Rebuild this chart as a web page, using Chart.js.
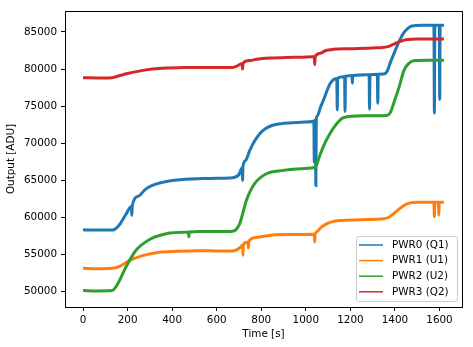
<!DOCTYPE html>
<html>
<head>
<meta charset="utf-8">
<script src="https://cdn.jsdelivr.net/npm/chart.js@4.4.0/dist/chart.umd.min.js"></script>
<style>
  html, body { margin: 0; padding: 0; background: #fff; }
  #wrap { width: 473px; height: 347px; }
</style>
</head>
<body>
<div id="wrap"><canvas id="chart"></canvas></div>
<script>
// --- data ---
const seriesNames = ['PWR0 (Q1)', 'PWR1 (U1)', 'PWR2 (U2)', 'PWR3 (Q2)'];
const seriesColors = ['#1f77b4', '#ff7f0e', '#2ca02c', '#d62728'];

const timePwr0 = [0, 40, 80, 130, 160, 190, 217, 219, 221, 250, 280, 311, 350, 401, 460, 523, 600, 671, 700, 714, 716, 718, 730, 748, 770, 793, 820, 851, 890, 928, 980, 1030, 1036, 1038, 1040, 1043, 1045, 1047, 1052, 1065, 1079, 1094, 1108, 1125, 1139, 1141, 1143, 1160, 1174, 1176, 1178, 1195, 1207, 1209, 1211, 1240, 1284, 1286, 1288, 1321, 1323, 1325, 1349, 1365, 1378, 1393, 1408, 1423, 1438, 1458, 1476, 1520, 1575, 1577, 1579, 1599, 1601, 1603, 1620];
const valuesPwr0 = [58350, 58300, 58320, 58300, 58900, 60300, 61500, 60300, 61600, 62900, 63800, 64330, 64700, 65000, 65150, 65230, 65300, 65370, 65800, 66700, 65000, 66900, 67700, 69000, 70300, 71300, 72000, 72430, 72650, 72750, 72850, 72950, 73000, 67500, 73050, 73100, 64300, 73300, 73700, 74800, 75800, 77000, 78000, 78600, 78750, 74500, 78800, 78950, 79000, 74300, 79050, 79100, 79150, 78100, 79150, 79200, 79250, 74600, 79250, 79300, 75400, 79300, 79330, 79700, 80770, 81900, 83000, 84000, 84820, 85500, 85800, 85900, 85900, 74100, 85900, 85900, 75900, 85900, 85900];

const timePwr1 = [0, 60, 130, 162, 207, 267, 342, 420, 523, 600, 671, 703, 716, 718, 720, 740, 742, 744, 777, 852, 950, 1032, 1038, 1040, 1042, 1048, 1070, 1093, 1120, 1153, 1250, 1349, 1370, 1394, 1425, 1454, 1499, 1575, 1577, 1579, 1595, 1597, 1599, 1620];
const valuesPwr1 = [53150, 53100, 53160, 53390, 54200, 54870, 55320, 55450, 55520, 55500, 55500, 55900, 56300, 54900, 56400, 56700, 55900, 56750, 57300, 57650, 57700, 57750, 57750, 56700, 57800, 58050, 58700, 59150, 59450, 59600, 59700, 59830, 60000, 60500, 61300, 61850, 62050, 62050, 60100, 62050, 62050, 60300, 62050, 62050];

const timePwr2 = [0, 60, 130, 160, 192, 237, 297, 373, 450, 473, 475, 477, 523, 600, 671, 703, 733, 770, 823, 898, 960, 1032, 1045, 1063, 1085, 1108, 1140, 1168, 1258, 1363, 1380, 1400, 1420, 1440, 1460, 1490, 1550, 1620];
const valuesPwr2 = [50150, 50100, 50150, 51300, 53300, 55550, 57000, 57800, 58000, 58000, 57400, 58050, 58100, 58100, 58150, 59150, 62300, 64560, 65900, 66350, 66550, 66700, 66900, 68400, 70000, 71300, 72700, 73450, 73700, 73750, 74200, 75900, 77700, 79800, 80700, 81150, 81200, 81200];

const timePwr3 = [0, 60, 130, 162, 200, 252, 312, 372, 450, 523, 600, 671, 690, 714, 716, 718, 750, 779, 840, 914, 980, 1031, 1038, 1040, 1042, 1063, 1090, 1122, 1200, 1300, 1365, 1390, 1420, 1455, 1500, 1620];
const valuesPwr3 = [78830, 78800, 78850, 79100, 79400, 79730, 80000, 80150, 80200, 80230, 80200, 80220, 80400, 80750, 80000, 80800, 81150, 81330, 81500, 81580, 81600, 81650, 81650, 80600, 81700, 82120, 82500, 82660, 82750, 82850, 83000, 83300, 83700, 84000, 84050, 84050];

const xTicks = [0, 200, 400, 600, 800, 1000, 1200, 1400, 1600];
const yTicks = [50000, 55000, 60000, 65000, 70000, 75000, 80000, 85000];

const allTimes = [timePwr0, timePwr1, timePwr2, timePwr3];
const allValues = [valuesPwr0, valuesPwr1, valuesPwr2, valuesPwr3];

function toPoints(ts, vs) {
  return ts.map((t, i) => ({ x: t, y: vs[i] }));
}

const FONT = 'DejaVu Sans';
const FSIZE = 10.4;

// matplotlib style frame around the axes
const framePlugin = {
  id: 'frame',
  afterDatasetsDraw(chart) {
    const { ctx, chartArea: a } = chart;
    ctx.save();
    ctx.strokeStyle = '#000';
    ctx.lineWidth = 1;
    ctx.strokeRect(a.left + 0.5, a.top + 0.5, a.right - a.left, a.bottom - a.top);
    ctx.restore();
  }
};

// legend in the lower right corner, inside the axes
const legendPlugin = {
  id: 'boxLegend',
  afterDraw(chart) {
    const { ctx, chartArea: a } = chart;
    const boxW = 101, boxH = 65;
    const x0 = a.right - 5 - boxW;
    const y0 = a.bottom - 6 - boxH;
    ctx.save();
    ctx.fillStyle = 'rgba(255,255,255,0.8)';
    ctx.strokeStyle = '#cccccc';
    ctx.lineWidth = 1;
    ctx.beginPath();
    ctx.roundRect(x0 + 0.5, y0 + 0.5, boxW, boxH, 2);
    ctx.fill();
    ctx.stroke();

    ctx.font = FSIZE + 'px "' + FONT + '"';
    ctx.textBaseline = 'middle';
    ctx.textAlign = 'left';
    chart.data.datasets.forEach((ds, i) => {
      const y = y0 + 9 + i * 15.6;
      ctx.strokeStyle = ds.borderColor;
      ctx.lineWidth = 1.5;
      ctx.beginPath();
      ctx.moveTo(x0 + 3, y);
      ctx.lineTo(x0 + 27, y);
      ctx.stroke();
      ctx.fillStyle = '#000';
      ctx.fillText(ds.label, x0 + 36, y);
    });
    ctx.restore();
  }
};

const datasets = seriesNames.map((name, i) => ({
  label: name,
  data: toPoints(allTimes[i], allValues[i]),
  borderColor: seriesColors[i],
  backgroundColor: seriesColors[i],
  borderWidth: 3,
  pointRadius: 0,
  fill: false,
  cubicInterpolationMode: 'monotone',
  order: seriesNames.length - 1 - i
}));

new Chart(document.getElementById('chart'), {
  type: 'line',
  data: { datasets: datasets },
  options: {
    responsive: true,
    maintainAspectRatio: false,
    animation: false,
    layout: { padding: { left: 0, right: 11, top: 11, bottom: 0 } },
    plugins: {
      legend: { display: false },
      tooltip: { enabled: false }
    },
    scales: {
      x: {
        type: 'linear',
        min: -81,
        max: 1701,
        afterBuildTicks: (scale) => { scale.ticks = xTicks.map(v => ({ value: v })); },
        afterFit: (scale) => { scale.height = 40; },
        border: { display: false },
        grid: { drawOnChartArea: false, drawTicks: true, tickLength: 4, color: '#000' },
        ticks: { color: '#000', font: { family: FONT, size: FSIZE }, padding: 3, maxRotation: 0, callback: (v) => String(v) },
        title: { display: true, text: 'Time [s]', color: '#000', font: { family: FONT, size: FSIZE }, padding: { top: 2, bottom: 6 } }
      },
      y: {
        type: 'linear',
        min: 47940,
        max: 87830,
        afterBuildTicks: (scale) => { scale.ticks = yTicks.map(v => ({ value: v })); },
        afterFit: (scale) => { scale.width = 65; },
        border: { display: false },
        grid: { drawOnChartArea: false, drawTicks: true, tickLength: 4, color: '#000' },
        ticks: { color: '#000', font: { family: FONT, size: FSIZE }, padding: 4, callback: (v) => String(v) },
        title: { display: true, text: 'Output [ADU]', color: '#000', font: { family: FONT, size: FSIZE }, padding: { top: 5, bottom: 4 } }
      }
    }
  },
  plugins: [framePlugin, legendPlugin]
});
</script>
</body>
</html>
